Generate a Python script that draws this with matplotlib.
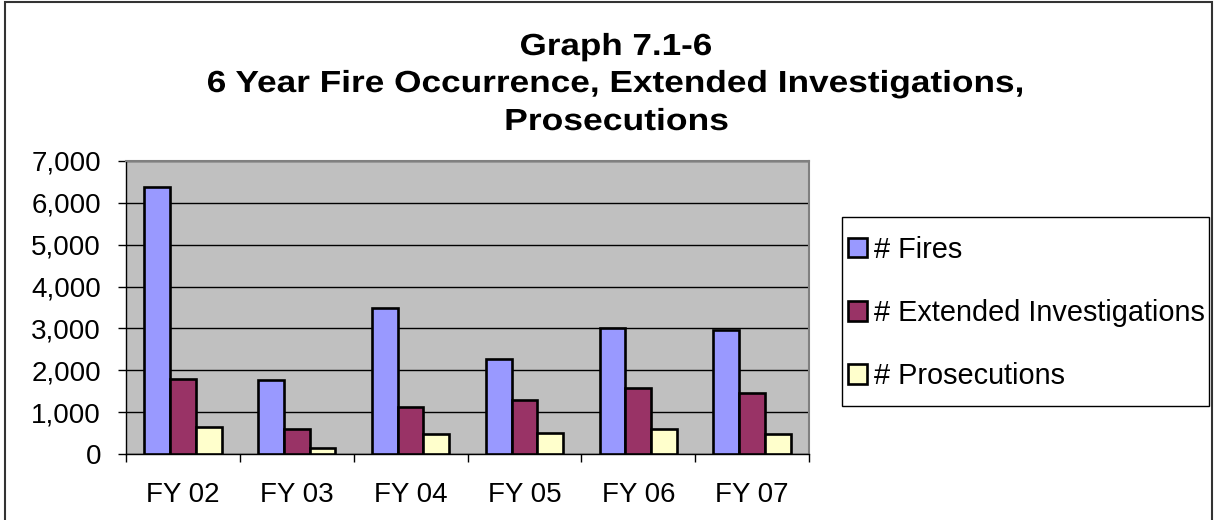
import numpy as np
import matplotlib
matplotlib.use("Agg")
import matplotlib.pyplot as plt
from matplotlib.patches import Rectangle, PathPatch
from matplotlib.textpath import TextPath
from matplotlib.font_manager import FontProperties
from matplotlib.transforms import Affine2D
from matplotlib.ticker import FuncFormatter

years = ["FY 02", "FY 03", "FY 04", "FY 05", "FY 06", "FY 07"]
fires = [6370, 1770, 3490, 2280, 3020, 2960]
extended = [1780, 600, 1120, 1300, 1580, 1460]
prosecutions = [650, 150, 470, 510, 590, 470]
series_names = ["# Fires", "# Extended Investigations", "# Prosecutions"]
colors = ["#9999FF", "#993366", "#FFFFCC"]
title_lines = ["Graph 7.1-6",
               "6 Year Fire Occurrence, Extended Investigations,",
               "Prosecutions"]

plt.rcParams['font.family'] = ['Liberation Sans', 'DejaVu Sans']

W, H = 1214, 520
fig = plt.figure(figsize=(W / 100, H / 100), dpi=100)
ax = fig.add_axes([126 / W, 1 - 454 / H, (809 - 126) / W, (454 - 161) / H])
ax.set_facecolor("#C0C0C0")

x = np.arange(len(years)) + 0.5
bw = 0.226
for k, (vals, name, col) in enumerate(zip([fires, extended, prosecutions], series_names, colors)):
    ax.bar(x + (k - 1) * bw, vals, width=bw, color=col, edgecolor="black",
           linewidth=1.9, label=name, zorder=3)

ax.set_xlim(0, len(years))
ax.set_ylim(0, 7000)
ax.set_yticks(np.arange(0, 7001, 1000))
ax.yaxis.set_major_formatter(FuncFormatter(lambda v, p: f"{int(v):,}"))
ax.grid(axis="y", color="black", linewidth=1.0, zorder=1)

ax.set_xticks(np.arange(0, len(years) + 1))
ax.set_xticklabels([])
ax.set_xticks(x, minor=True)
ax.set_xticklabels(years, minor=True)
ax.tick_params(axis="x", which="minor", length=0, pad=20, labelsize=20)
ax.tick_params(axis="x", which="major", length=6, width=1, direction="out", color="black")
ax.tick_params(axis="y", length=6, width=1, direction="out", pad=12, labelsize=20)

for side in ["top", "right"]:
    ax.spines[side].set_color("#808080")
    ax.spines[side].set_linewidth(1.5)
for side in ["left", "bottom"]:
    ax.spines[side].set_color("black")
    ax.spines[side].set_linewidth(1.0)

# title: bold Arial-like text, stretched horizontally like the original
bold = FontProperties(family="Liberation Sans", weight="bold")
title_pos = [(616, 55, 190), (615, 92, 814), (617, 130, 221)]  # centre x, baseline y, width (px)
for line, (cx, base, width) in zip(title_lines, title_pos):
    tp = TextPath((0, 0), line, size=30.5, prop=bold)
    ext = tp.get_extents()
    sx = width / ext.width
    tr = (Affine2D().translate(-(ext.x0 + ext.x1) / 2, 0).scale(sx, 1)
          .translate(cx, H - base).scale(1 / W, 1 / H) + fig.transFigure)
    fig.patches.append(PathPatch(tp, transform=tr, facecolor="black",
                                 edgecolor="none"))

leg = fig.legend(loc="center left", bbox_to_anchor=(848 / W, 1 - 313 / H),
                 fontsize=20.8, frameon=False,
                 handlelength=0.66, handleheight=0.66, handletextpad=0.25,
                 labelspacing=1.22, borderpad=0, borderaxespad=0)
for h in leg.legend_handles:
    h.set_linewidth(1.9)
fig.patches.append(Rectangle((842 / W, 1 - 406 / H), (1209 - 842) / W, (406 - 217) / H,
                             transform=fig.transFigure, fill=False,
                             edgecolor="black", linewidth=1.0))

fig.patches.append(Rectangle((5 / W, -0.02), 1207 / W, 1 - 2 / H + 0.02,
                             transform=fig.transFigure, fill=False,
                             edgecolor="#333333", linewidth=1.5))

fig.savefig("out.png", dpi=100)
